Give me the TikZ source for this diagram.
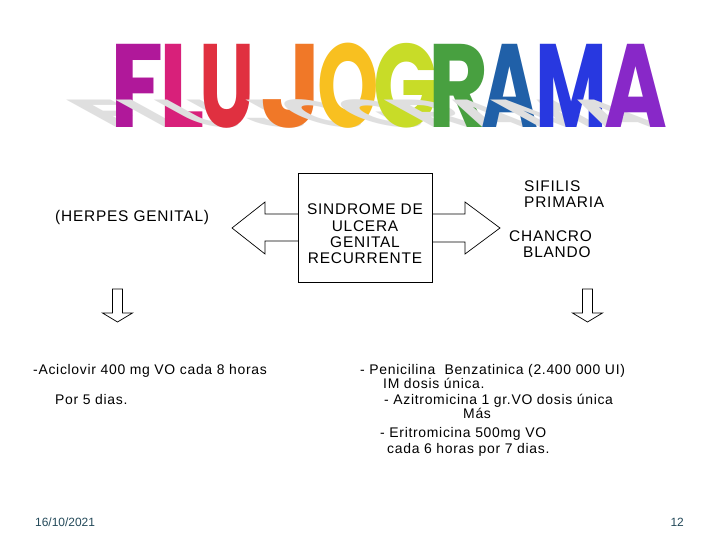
\documentclass[tikz,border=0pt]{standalone}
\usepackage{fontspec}
\setmainfont{Liberation Sans}
\newfontfamily\titlefont{Poppins}
\newfontfamily\bodyfont[LetterSpace=5]{Liberation Sans}
\definecolor{cF}{HTML}{B0189A}
\definecolor{cL}{HTML}{D8207A}
\definecolor{cU}{HTML}{E03040}
\definecolor{cJ}{HTML}{F07828}
\definecolor{cO}{HTML}{F8C020}
\definecolor{cG}{HTML}{C8DC28}
\definecolor{cR}{HTML}{48A040}
\definecolor{cA}{HTML}{2060A8}
\definecolor{cM}{HTML}{2838E0}
\definecolor{cAA}{HTML}{8828C8}
\definecolor{foot}{HTML}{244A5A}
\newcommand\tlet[4]{%
  \node[tshadow, cm={#4,0,-0.6,0.33,(0,0)}] at (#1,128) {#3};
  \node[tletter, text=#2, xscale=#4] at (#1,128) {#3};}
\begin{document}
\begin{tikzpicture}[x=1bp,y=-1bp,
  tletter/.style={anchor=base, inner sep=0, font=\titlefont\bfseries\fontsize{119}{119}\selectfont},
  tshadow/.style={anchor=base, inner sep=0, font=\titlefont\bfseries\fontsize{119}{119}\selectfont, text=gray!25},
  big/.style={inner sep=0, font=\bodyfont\fontsize{15.5}{16.3}\selectfont},
  small/.style={inner sep=0, anchor=base west, font=\bodyfont\fontsize{14}{15}\selectfont},
  blockarrow/.style={draw=black, line width=0.7bp, fill=white, line join=miter},
  footer/.style={inner sep=0, text=foot, font=\fontsize{12}{12}\selectfont}]
\useasboundingbox[fill=white] (0,0) rectangle (720,540);
% title
\tlet{137.5}{cF}{F}{0.82}
\tlet{182.5}{cL}{L}{0.8}
\tlet{227.5}{cU}{U}{0.66}
\tlet{291}{cJ}{J}{0.9}
\tlet{348}{cO}{O}{0.66}
\tlet{406}{cG}{G}{0.72}
\tlet{458.5}{cR}{R}{0.78}
\tlet{510}{cA}{A}{0.65}
\tlet{571}{cM}{M}{0.66}
\tlet{635.5}{cAA}{A}{0.72}
% central box and block arrows
\draw[blockarrow] (298,214) -- (265,214) -- (265,202) -- (232,228) -- (265,254) -- (265,241) -- (298,241);
\draw[blockarrow] (432,214) -- (465,214) -- (465,202) -- (500,228) -- (465,254) -- (465,242) -- (432,242);
\node[draw, line width=0.7bp, minimum width=134bp, minimum height=109bp, inner sep=0] (box) at (365,227.5) {};
\node[big, align=center] (boxtext) at (365,234) {SINDROME DE\\ULCERA\\GENITAL\\RECURRENTE};
% side labels
\node[big, anchor=base west] (herpes) at (55,221.5) {(HERPES GENITAL)};
\node[big, anchor=base west] (sifilis) at (524,191.5) {SIFILIS};
\node[big, anchor=base west] (primaria) at (524,207.5) {PRIMARIA};
\node[big, anchor=base west] (chancro) at (509,241.5) {CHANCRO};
\node[big, anchor=base west] (blando) at (523,257.5) {BLANDO};
% down arrows
\draw[blockarrow] (112.5,289) -- (122.5,289) -- (122.5,313) -- (132.5,313) -- (117.5,322) -- (102.5,313) -- (112.5,313) -- cycle;
\draw[blockarrow] (582.5,289) -- (592.5,289) -- (592.5,313) -- (602.5,313) -- (587.5,322) -- (572.5,313) -- (582.5,313) -- cycle;
% treatments
\node[small] (acic) at (33,374) {-Aciclovir 400 mg VO cada 8 horas};
\node[small] (por5) at (55,404) {Por 5 dias.};
\node[small] (peni) at (360,374) {- Penicilina\ \ Benzatinica (2.400 000 UI)};
\node[small] (im) at (383,388) {IM dosis única.};
\node[small] (azi) at (384,404) {- Azitromicina 1 gr.VO dosis única};
\node[small] (mas) at (463,418) {Más};
\node[small] (eri) at (380,437) {- Eritromicina 500mg VO};
\node[small] (cada) at (387,453) {cada 6 horas por 7 dias.};
% footer
\node[footer, anchor=west] (date) at (35,522) {16/10/2021};
\node[footer, anchor=east] (page) at (684,522) {12};
\end{tikzpicture}
\end{document}
